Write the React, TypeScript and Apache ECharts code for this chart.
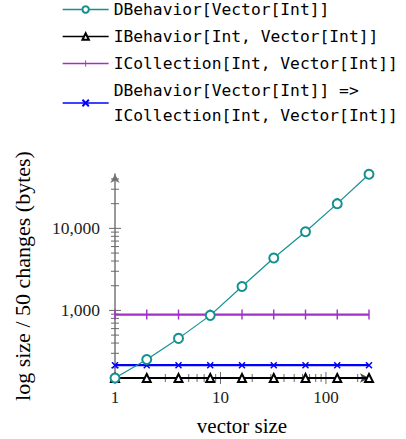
import React, { useEffect, useRef } from "react";
import * as echarts from "echarts";

const vectorSizes = [1, 2, 4, 8, 16, 32, 64, 128, 256];
const dBehavior = [150, 252, 456, 870, 1960, 4350, 9100, 20000, 45600];
const iBehavior = [150, 150, 150, 150, 150, 150, 150, 150, 150];
const iCollection = [890, 890, 890, 890, 890, 890, 890, 890, 890];
const dToI = [215, 215, 215, 215, 215, 215, 215, 215, 215];

const seriesNames = [
  "DBehavior[Vector[Int]]",
  "IBehavior[Int, Vector[Int]]",
  "ICollection[Int, Vector[Int]]",
  "DBehavior[Vector[Int]] =>\nICollection[Int, Vector[Int]]",
];

const xMajorTicks = [1, 10, 100];
const xMinorTicks = [2, 3, 4, 5, 6, 7, 8, 9, 20, 30, 40, 50, 60, 70, 80, 90, 200];
const yMajorTicks = [1000, 10000];
const yMinorTicks = [200, 300, 400, 500, 600, 700, 800, 900, 2000, 3000, 4000, 5000, 6000, 7000, 8000, 9000, 20000, 30000, 40000];

const X_MIN = 1;
const X_MAX = 256;
const Y_MIN = 150;
const Y_MAX = 46000;

const serif = "'Liberation Serif', 'DejaVu Serif', serif";
const mono = "'DejaVu Sans Mono', 'Liberation Mono', monospace";

const isPow10 = (v: number) => {
  const l = Math.log10(v);
  return Math.abs(l - Math.round(l)) < 1e-6;
};

export default function App() {
  const ref = useRef<HTMLDivElement>(null);
  useEffect(() => {
    if (!ref.current) return;
    const chart = echarts.init(ref.current, null, { renderer: "svg" });

    // tick items: [x, y, direction(0=x axis,1=y axis), half length]
    const tickData: number[][] = [];
    xMajorTicks.forEach((v) => tickData.push([v, Y_MIN, 0, 6]));
    xMinorTicks.forEach((v) => tickData.push([v, Y_MIN, 0, 4]));
    yMajorTicks.forEach((v) => tickData.push([X_MIN, v, 1, 6]));
    yMinorTicks.forEach((v) => tickData.push([X_MIN, v, 1, 4]));

    const pts = (arr: number[]) => vectorSizes.map((x, i) => [x, arr[i]]);

    const xShape = "path://M0,0L10,10M10,0L0,10";
    // vertical bar inside a square bounding box (degenerate corner points)
    const barShape = "path://M0,0L0,0M10,10L10,10M4.3,0L5.7,0L5.7,10L4.3,10Z";

    chart.setOption({
      animation: false,
      legend: {
        orient: "vertical",
        left: 62,
        top: -3,
        padding: 0,
        itemWidth: 46,
        itemHeight: 8,
        itemGap: 2,
        data: seriesNames,
        lineStyle: { width: 1.3 },
        textStyle: {
          fontFamily: mono,
          fontSize: 16.3,
          color: "#000",
          lineHeight: 25,
        },
      },
      grid: { left: 115, right: 37, top: 174, bottom: 61 },
      xAxis: {
        type: "log",
        logBase: 10,
        min: X_MIN,
        max: X_MAX,
        splitNumber: 2,
        name: "vector size",
        nameLocation: "middle",
        nameGap: 37,
        nameTextStyle: { fontFamily: serif, fontSize: 21, color: "#000" },
        axisLine: {
          lineStyle: { color: "#444", width: 1 },
          symbol: ["none", "arrow"],
          symbolSize: [7, 9],
        },
        axisTick: { show: false },
        splitLine: { show: false },
        axisLabel: {
          fontFamily: serif,
          fontSize: 17,
          color: "#222",
          margin: 11,
          showMaxLabel: false,
          formatter: (v: number) => (isPow10(v) ? String(Math.round(v)) : ""),
        },
      },
      yAxis: {
        type: "log",
        logBase: 10,
        min: Y_MIN,
        max: Y_MAX,
        splitNumber: 2,
        name: "log size / 50 changes (bytes)",
        nameLocation: "middle",
        nameGap: 82,
        nameTextStyle: { fontFamily: serif, fontSize: 22, color: "#000" },
        axisLine: {
          lineStyle: { color: "#777", width: 1.5 },
          symbol: ["none", "arrow"],
          symbolSize: [7, 9],
        },
        axisTick: { show: false },
        splitLine: { show: false },
        axisLabel: {
          fontFamily: serif,
          fontSize: 17.5,
          color: "#222",
          margin: 15,
          showMinLabel: false,
          showMaxLabel: false,
          formatter: (v: number) =>
            isPow10(v) ? Math.round(v).toLocaleString("en-US") : "",
        },
      },
      series: [
        {
          type: "custom",
          name: "ticks",
          silent: true,
          clip: false,
          z: 1,
          data: tickData,
          renderItem: (params: any, api: any) => {
            const p = api.coord([api.value(0), api.value(1)]);
            const dir = api.value(2);
            const h = api.value(3);
            const shape =
              dir === 0
                ? { x1: p[0], y1: p[1] - h, x2: p[0], y2: p[1] + h }
                : { x1: p[0] - h, y1: p[1], x2: p[0] + h, y2: p[1] };
            return {
              type: "line",
              shape,
              style: { stroke: "#6a6a6a", lineWidth: 1 },
            };
          },
        },
        {
          type: "line",
          name: seriesNames[2],
          data: pts(iCollection),
          clip: false,
          z: 3,
          color: "#a030c8",
          symbol: barShape,
          symbolSize: 10,
          lineStyle: { width: 2.2, color: "#a030c8" },
          itemStyle: { color: "#a030c8" },
        },
        {
          type: "line",
          name: seriesNames[3],
          data: pts(dToI),
          clip: false,
          z: 3,
          color: "#0000ff",
          symbol: xShape,
          symbolSize: 6,
          lineStyle: { width: 2.2, color: "#0000ff" },
          itemStyle: { color: "none", borderColor: "#0000ff", borderWidth: 1.5 },
        },
        {
          type: "line",
          name: seriesNames[1],
          data: pts(iBehavior),
          clip: false,
          z: 4,
          color: "#000",
          symbol: "emptyTriangle",
          symbolSize: 8,
          lineStyle: { width: 2.2, color: "#000" },
          itemStyle: { color: "#000", borderWidth: 1.5 },
        },
        {
          type: "line",
          name: seriesNames[0],
          data: pts(dBehavior),
          clip: false,
          z: 5,
          color: "#149090",
          symbol: "emptyCircle",
          symbolSize: 9,
          lineStyle: { width: 1.2, color: "#149090" },
          itemStyle: { color: "#149090", borderWidth: 1.2 },
        },
      ],
    });
    return () => chart.dispose();
  }, []);
  return <div ref={ref} style={{ width: 406, height: 439, position: "absolute", left: 0, top: 0 }} />;
}
